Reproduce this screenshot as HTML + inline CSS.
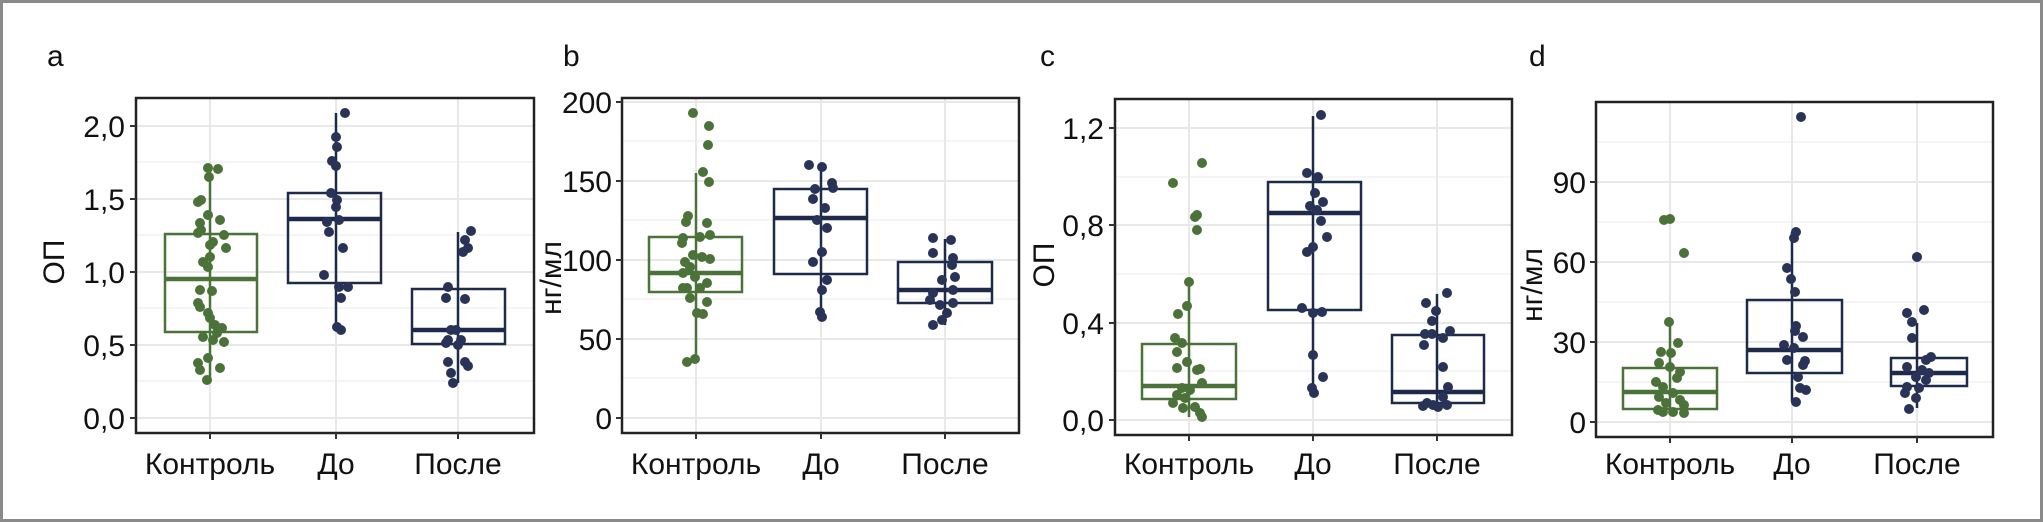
<!DOCTYPE html>
<html><head><meta charset="utf-8"><style>
html,body{margin:0;padding:0;background:#fff}
svg{display:block}
text{font-family:"Liberation Sans",Arial,sans-serif;fill:#111;font-size:30px}
.g line{stroke:#e8e8e8;stroke-width:2}
.gm line{stroke:#f2f2f2;stroke-width:1.5}
.gr circle{fill:#4b7339}
.nv circle{fill:#283357}
.bxg{fill:none;stroke:#4b7339;stroke-width:2.5}
.bxn{fill:none;stroke:#1f2a4a;stroke-width:2.5}
.frame{fill:none;stroke:#222;stroke-width:2.5}
.tk line{stroke:#333;stroke-width:2}
</style></head><body>
<svg width="2043" height="522" viewBox="0 0 2043 522" xmlns="http://www.w3.org/2000/svg">
<rect x="1.5" y="1.5" width="2040" height="519" fill="#fff" stroke="#8a8a8a" stroke-width="3"/>

<text x="47" y="66">a</text>
<g class="gm"><line x1="137" x2="533" y1="381" y2="381"/><line x1="137" x2="533" y1="308" y2="308"/><line x1="137" x2="533" y1="235" y2="235"/><line x1="137" x2="533" y1="162" y2="162"/></g>
<g class="g"><line x1="137" x2="533" y1="418" y2="418"/><line x1="137" x2="533" y1="345" y2="345"/><line x1="137" x2="533" y1="272" y2="272"/><line x1="137" x2="533" y1="199" y2="199"/><line x1="137" x2="533" y1="126" y2="126"/>
<line x1="210" x2="210" y1="99" y2="432"/><line x1="336" x2="336" y1="99" y2="432"/><line x1="458" x2="458" y1="99" y2="432"/></g>
<line x1="210" x2="210" y1="172" y2="380" stroke="#4b7339" stroke-width="2.5"/>
<rect x="165" y="234" width="92" height="98" class="bxg"/><line x1="165" x2="257" y1="279" y2="279" stroke="#4b7339" stroke-width="4.5"/>
<line x1="336" x2="336" y1="113" y2="330" stroke="#1f2a4a" stroke-width="2.5"/>
<rect x="288" y="193" width="93" height="90" class="bxn"/><line x1="288" x2="381" y1="219" y2="219" stroke="#1f2a4a" stroke-width="4.5"/>
<line x1="458" x2="458" y1="232" y2="383" stroke="#1f2a4a" stroke-width="2.5"/>
<rect x="412" y="289" width="93" height="55" class="bxn"/><line x1="412" x2="505" y1="330" y2="330" stroke="#1f2a4a" stroke-width="4.5"/>
<g class="gr"><circle cx="208" cy="168" r="5"/><circle cx="218" cy="169" r="5"/><circle cx="209" cy="177" r="5"/><circle cx="198" cy="202" r="5"/><circle cx="201" cy="200" r="5"/><circle cx="208" cy="215" r="5"/><circle cx="220" cy="220" r="5"/><circle cx="200" cy="223" r="5"/><circle cx="201" cy="230" r="5"/><circle cx="198" cy="233" r="5"/><circle cx="224" cy="235" r="5"/><circle cx="213" cy="242" r="5"/><circle cx="210" cy="245" r="5"/><circle cx="226" cy="248" r="5"/><circle cx="203" cy="262" r="5"/><circle cx="208" cy="267" r="5"/><circle cx="210" cy="257" r="5"/><circle cx="200" cy="290" r="5"/><circle cx="212" cy="291" r="5"/><circle cx="198" cy="303" r="5"/><circle cx="200" cy="307" r="5"/><circle cx="208" cy="313" r="5"/><circle cx="210" cy="318" r="5"/><circle cx="215" cy="325" r="5"/><circle cx="222" cy="328" r="5"/><circle cx="217" cy="333" r="5"/><circle cx="203" cy="337" r="5"/><circle cx="224" cy="342" r="5"/><circle cx="213" cy="340" r="5"/><circle cx="208" cy="358" r="5"/><circle cx="198" cy="363" r="5"/><circle cx="200" cy="370" r="5"/><circle cx="220" cy="368" r="5"/><circle cx="207" cy="380" r="5"/></g>
<g class="nv"><circle cx="345" cy="113" r="5"/><circle cx="336" cy="137" r="5"/><circle cx="337" cy="147" r="5"/><circle cx="332" cy="161" r="5"/><circle cx="336" cy="166" r="5"/><circle cx="331" cy="193" r="5"/><circle cx="337" cy="200" r="5"/><circle cx="336" cy="207" r="5"/><circle cx="339" cy="220" r="5"/><circle cx="327" cy="222" r="5"/><circle cx="329" cy="232" r="5"/><circle cx="343" cy="248" r="5"/><circle cx="324" cy="275" r="5"/><circle cx="339" cy="287" r="5"/><circle cx="348" cy="287" r="5"/><circle cx="341" cy="298" r="5"/><circle cx="337" cy="327" r="5"/><circle cx="341" cy="330" r="5"/>
<circle cx="471" cy="231" r="5"/><circle cx="465" cy="240" r="5"/><circle cx="468" cy="248" r="5"/><circle cx="463" cy="252" r="5"/><circle cx="448" cy="287" r="5"/><circle cx="446" cy="298" r="5"/><circle cx="465" cy="299" r="5"/><circle cx="451" cy="330" r="5"/><circle cx="456" cy="330" r="5"/><circle cx="448" cy="340" r="5"/><circle cx="461" cy="340" r="5"/><circle cx="446" cy="343" r="5"/><circle cx="458" cy="345" r="5"/><circle cx="448" cy="362" r="5"/><circle cx="465" cy="362" r="5"/><circle cx="468" cy="366" r="5"/><circle cx="451" cy="373" r="5"/><circle cx="453" cy="383" r="5"/></g>
<rect x="136" y="98" width="398" height="335" class="frame"/>
<g class="tk"><line x1="130" x2="136" y1="418" y2="418"/><line x1="130" x2="136" y1="345" y2="345"/><line x1="130" x2="136" y1="272" y2="272"/><line x1="130" x2="136" y1="199" y2="199"/><line x1="130" x2="136" y1="126" y2="126"/><line x1="210" x2="210" y1="433" y2="439"/><line x1="336" x2="336" y1="433" y2="439"/><line x1="458" x2="458" y1="433" y2="439"/></g>
<g text-anchor="end"><text x="125" y="429">0,0</text><text x="125" y="356">0,5</text><text x="125" y="283">1,0</text><text x="125" y="210">1,5</text><text x="125" y="137">2,0</text></g>
<g text-anchor="middle"><text x="210" y="474">Контроль</text><text x="336" y="474">До</text><text x="458" y="474">После</text></g>
<text transform="translate(64,262) rotate(-90)" text-anchor="middle">ОП</text>

<text x="563" y="66">b</text>
<g class="gm"><line x1="623" x2="1018" y1="378" y2="378"/><line x1="623" x2="1018" y1="299" y2="299"/><line x1="623" x2="1018" y1="220" y2="220"/><line x1="623" x2="1018" y1="141" y2="141"/></g>
<g class="g"><line x1="623" x2="1018" y1="418" y2="418"/><line x1="623" x2="1018" y1="339" y2="339"/><line x1="623" x2="1018" y1="260" y2="260"/><line x1="623" x2="1018" y1="181" y2="181"/><line x1="623" x2="1018" y1="102" y2="102"/>
<line x1="696" x2="696" y1="99" y2="432"/><line x1="821" x2="821" y1="99" y2="432"/><line x1="945" x2="945" y1="99" y2="432"/></g>
<line x1="696" x2="696" y1="173" y2="360" stroke="#4b7339" stroke-width="2.5"/>
<rect x="649" y="237" width="93" height="55" class="bxg"/><line x1="649" x2="742" y1="273" y2="273" stroke="#4b7339" stroke-width="4.5"/>
<line x1="821" x2="821" y1="168" y2="315" stroke="#1f2a4a" stroke-width="2.5"/>
<rect x="774" y="189" width="93" height="85" class="bxn"/><line x1="774" x2="867" y1="218" y2="218" stroke="#1f2a4a" stroke-width="4.5"/>
<line x1="945" x2="945" y1="239" y2="325" stroke="#1f2a4a" stroke-width="2.5"/>
<rect x="898" y="262" width="94" height="41" class="bxn"/><line x1="898" x2="992" y1="290" y2="290" stroke="#1f2a4a" stroke-width="4.5"/>
<g class="gr"><circle cx="693" cy="113" r="5"/><circle cx="709" cy="126" r="5"/><circle cx="708" cy="145" r="5"/><circle cx="703" cy="172" r="5"/><circle cx="709" cy="182" r="5"/><circle cx="688" cy="216" r="5"/><circle cx="686" cy="222" r="5"/><circle cx="707" cy="223" r="5"/><circle cx="710" cy="235" r="5"/><circle cx="700" cy="237" r="5"/><circle cx="683" cy="238" r="5"/><circle cx="682" cy="243" r="5"/><circle cx="693" cy="255" r="5"/><circle cx="702" cy="257" r="5"/><circle cx="710" cy="259" r="5"/><circle cx="685" cy="262" r="5"/><circle cx="690" cy="267" r="5"/><circle cx="683" cy="273" r="5"/><circle cx="695" cy="277" r="5"/><circle cx="707" cy="283" r="5"/><circle cx="687" cy="288" r="5"/><circle cx="683" cy="288" r="5"/><circle cx="700" cy="288" r="5"/><circle cx="690" cy="298" r="5"/><circle cx="707" cy="302" r="5"/><circle cx="697" cy="313" r="5"/><circle cx="703" cy="314" r="5"/><circle cx="687" cy="362" r="5"/><circle cx="695" cy="359" r="5"/></g>
<g class="nv"><circle cx="809" cy="165" r="5"/><circle cx="822" cy="167" r="5"/><circle cx="815" cy="189" r="5"/><circle cx="832" cy="183" r="5"/><circle cx="833" cy="188" r="5"/><circle cx="813" cy="199" r="5"/><circle cx="825" cy="208" r="5"/><circle cx="817" cy="220" r="5"/><circle cx="827" cy="228" r="5"/><circle cx="822" cy="252" r="5"/><circle cx="813" cy="262" r="5"/><circle cx="827" cy="280" r="5"/><circle cx="822" cy="290" r="5"/><circle cx="820" cy="312" r="5"/><circle cx="822" cy="317" r="5"/>
<circle cx="933" cy="238" r="5"/><circle cx="951" cy="240" r="5"/><circle cx="933" cy="253" r="5"/><circle cx="953" cy="258" r="5"/><circle cx="952" cy="265" r="5"/><circle cx="942" cy="280" r="5"/><circle cx="955" cy="277" r="5"/><circle cx="953" cy="290" r="5"/><circle cx="933" cy="293" r="5"/><circle cx="930" cy="300" r="5"/><circle cx="953" cy="303" r="5"/><circle cx="940" cy="305" r="5"/><circle cx="947" cy="313" r="5"/><circle cx="942" cy="320" r="5"/><circle cx="933" cy="325" r="5"/></g>
<rect x="622" y="98" width="397" height="335" class="frame"/>
<g class="tk"><line x1="616" x2="622" y1="418" y2="418"/><line x1="616" x2="622" y1="339" y2="339"/><line x1="616" x2="622" y1="260" y2="260"/><line x1="616" x2="622" y1="181" y2="181"/><line x1="616" x2="622" y1="102" y2="102"/><line x1="696" x2="696" y1="433" y2="439"/><line x1="821" x2="821" y1="433" y2="439"/><line x1="945" x2="945" y1="433" y2="439"/></g>
<g text-anchor="end"><text x="612" y="429">0</text><text x="612" y="350">50</text><text x="612" y="271">100</text><text x="612" y="192">150</text><text x="612" y="113">200</text></g>
<g text-anchor="middle"><text x="696" y="474">Контроль</text><text x="821" y="474">До</text><text x="945" y="474">После</text></g>
<text transform="translate(561,278) rotate(-90)" text-anchor="middle">нг/мл</text>

<text x="1040" y="66">c</text>
<g class="gm"><line x1="1116" x2="1511" y1="371" y2="371"/><line x1="1116" x2="1511" y1="274" y2="274"/><line x1="1116" x2="1511" y1="177" y2="177"/></g>
<g class="g"><line x1="1116" x2="1511" y1="420" y2="420"/><line x1="1116" x2="1511" y1="323" y2="323"/><line x1="1116" x2="1511" y1="225" y2="225"/><line x1="1116" x2="1511" y1="128" y2="128"/>
<line x1="1189" x2="1189" y1="100" y2="434"/><line x1="1313" x2="1313" y1="100" y2="434"/><line x1="1437" x2="1437" y1="100" y2="434"/></g>
<line x1="1189" x2="1189" y1="282" y2="417" stroke="#4b7339" stroke-width="2.5"/>
<rect x="1142" y="344" width="94" height="55" class="bxg"/><line x1="1142" x2="1236" y1="386" y2="386" stroke="#4b7339" stroke-width="4.5"/>
<line x1="1313" x2="1313" y1="116" y2="393" stroke="#1f2a4a" stroke-width="2.5"/>
<rect x="1268" y="182" width="93" height="128" class="bxn"/><line x1="1268" x2="1361" y1="213" y2="213" stroke="#1f2a4a" stroke-width="4.5"/>
<line x1="1437" x2="1437" y1="294" y2="408" stroke="#1f2a4a" stroke-width="2.5"/>
<rect x="1392" y="335" width="92" height="68" class="bxn"/><line x1="1392" x2="1484" y1="392" y2="392" stroke="#1f2a4a" stroke-width="4.5"/>
<g class="gr"><circle cx="1202" cy="163" r="5"/><circle cx="1173" cy="183" r="5"/><circle cx="1197" cy="215" r="5"/><circle cx="1195" cy="217" r="5"/><circle cx="1197" cy="230" r="5"/><circle cx="1189" cy="282" r="5"/><circle cx="1187" cy="306" r="5"/><circle cx="1178" cy="314" r="5"/><circle cx="1175" cy="338" r="5"/><circle cx="1182" cy="343" r="5"/><circle cx="1177" cy="352" r="5"/><circle cx="1187" cy="362" r="5"/><circle cx="1177" cy="368" r="5"/><circle cx="1200" cy="369" r="5"/><circle cx="1197" cy="370" r="5"/><circle cx="1202" cy="383" r="5"/><circle cx="1182" cy="388" r="5"/><circle cx="1190" cy="390" r="5"/><circle cx="1177" cy="395" r="5"/><circle cx="1185" cy="398" r="5"/><circle cx="1173" cy="403" r="5"/><circle cx="1195" cy="407" r="5"/><circle cx="1183" cy="408" r="5"/><circle cx="1200" cy="413" r="5"/><circle cx="1202" cy="417" r="5"/></g>
<g class="nv"><circle cx="1321" cy="115" r="5"/><circle cx="1307" cy="173" r="5"/><circle cx="1318" cy="177" r="5"/><circle cx="1315" cy="193" r="5"/><circle cx="1323" cy="202" r="5"/><circle cx="1310" cy="206" r="5"/><circle cx="1317" cy="210" r="5"/><circle cx="1321" cy="221" r="5"/><circle cx="1327" cy="237" r="5"/><circle cx="1313" cy="247" r="5"/><circle cx="1307" cy="252" r="5"/><circle cx="1302" cy="308" r="5"/><circle cx="1313" cy="313" r="5"/><circle cx="1322" cy="312" r="5"/><circle cx="1313" cy="355" r="5"/><circle cx="1323" cy="377" r="5"/><circle cx="1312" cy="388" r="5"/><circle cx="1314" cy="393" r="5"/>
<circle cx="1447" cy="293" r="5"/><circle cx="1426" cy="303" r="5"/><circle cx="1436" cy="311" r="5"/><circle cx="1432" cy="321" r="5"/><circle cx="1450" cy="331" r="5"/><circle cx="1425" cy="334" r="5"/><circle cx="1432" cy="334" r="5"/><circle cx="1443" cy="338" r="5"/><circle cx="1424" cy="345" r="5"/><circle cx="1443" cy="367" r="5"/><circle cx="1448" cy="387" r="5"/><circle cx="1443" cy="397" r="5"/><circle cx="1427" cy="403" r="5"/><circle cx="1433" cy="405" r="5"/><circle cx="1447" cy="405" r="5"/><circle cx="1423" cy="406" r="5"/><circle cx="1438" cy="407" r="5"/></g>
<rect x="1115" y="99" width="397" height="336" class="frame"/>
<g class="tk"><line x1="1109" x2="1115" y1="420" y2="420"/><line x1="1109" x2="1115" y1="323" y2="323"/><line x1="1109" x2="1115" y1="225" y2="225"/><line x1="1109" x2="1115" y1="128" y2="128"/><line x1="1189" x2="1189" y1="435" y2="441"/><line x1="1313" x2="1313" y1="435" y2="441"/><line x1="1437" x2="1437" y1="435" y2="441"/></g>
<g text-anchor="end"><text x="1104" y="431">0,0</text><text x="1104" y="334">0,4</text><text x="1104" y="236">0,8</text><text x="1104" y="139">1,2</text></g>
<g text-anchor="middle"><text x="1189" y="474">Контроль</text><text x="1313" y="474">До</text><text x="1437" y="474">После</text></g>
<text transform="translate(1054,265) rotate(-90)" text-anchor="middle">ОП</text>

<text x="1529" y="66">d</text>
<g class="gm"><line x1="1597" x2="1992" y1="382" y2="382"/><line x1="1597" x2="1992" y1="302" y2="302"/><line x1="1597" x2="1992" y1="222" y2="222"/><line x1="1597" x2="1992" y1="142" y2="142"/></g>
<g class="g"><line x1="1597" x2="1992" y1="422" y2="422"/><line x1="1597" x2="1992" y1="342" y2="342"/><line x1="1597" x2="1992" y1="262" y2="262"/><line x1="1597" x2="1992" y1="182" y2="182"/>
<line x1="1670" x2="1670" y1="103" y2="436"/><line x1="1792" x2="1792" y1="103" y2="436"/><line x1="1917" x2="1917" y1="103" y2="436"/></g>
<line x1="1670" x2="1670" y1="322" y2="415" stroke="#4b7339" stroke-width="2.5"/>
<rect x="1623" y="368" width="94" height="41" class="bxg"/><line x1="1623" x2="1717" y1="392" y2="392" stroke="#4b7339" stroke-width="4.5"/>
<line x1="1792" x2="1792" y1="232" y2="402" stroke="#1f2a4a" stroke-width="2.5"/>
<rect x="1747" y="300" width="95" height="73" class="bxn"/><line x1="1747" x2="1842" y1="350" y2="350" stroke="#1f2a4a" stroke-width="4.5"/>
<line x1="1917" x2="1917" y1="323" y2="408" stroke="#1f2a4a" stroke-width="2.5"/>
<rect x="1891" y="358" width="76" height="28" class="bxn"/><line x1="1891" x2="1967" y1="373" y2="373" stroke="#1f2a4a" stroke-width="4.5"/>
<g class="gr"><circle cx="1664" cy="220" r="5"/><circle cx="1670" cy="219" r="5"/><circle cx="1684" cy="253" r="5"/><circle cx="1669" cy="322" r="5"/><circle cx="1678" cy="343" r="5"/><circle cx="1661" cy="352" r="5"/><circle cx="1671" cy="353" r="5"/><circle cx="1659" cy="363" r="5"/><circle cx="1670" cy="367" r="5"/><circle cx="1680" cy="372" r="5"/><circle cx="1677" cy="378" r="5"/><circle cx="1656" cy="382" r="5"/><circle cx="1663" cy="387" r="5"/><circle cx="1673" cy="393" r="5"/><circle cx="1659" cy="397" r="5"/><circle cx="1680" cy="400" r="5"/><circle cx="1666" cy="403" r="5"/><circle cx="1684" cy="405" r="5"/><circle cx="1658" cy="410" r="5"/><circle cx="1673" cy="412" r="5"/><circle cx="1684" cy="413" r="5"/><circle cx="1663" cy="412" r="5"/></g>
<g class="nv"><circle cx="1801" cy="117" r="5"/><circle cx="1796" cy="232" r="5"/><circle cx="1794" cy="238" r="5"/><circle cx="1787" cy="268" r="5"/><circle cx="1791" cy="279" r="5"/><circle cx="1795" cy="292" r="5"/><circle cx="1796" cy="326" r="5"/><circle cx="1795" cy="331" r="5"/><circle cx="1803" cy="337" r="5"/><circle cx="1784" cy="345" r="5"/><circle cx="1794" cy="348" r="5"/><circle cx="1787" cy="360" r="5"/><circle cx="1805" cy="361" r="5"/><circle cx="1803" cy="365" r="5"/><circle cx="1798" cy="377" r="5"/><circle cx="1800" cy="388" r="5"/><circle cx="1806" cy="390" r="5"/><circle cx="1796" cy="402" r="5"/>
<circle cx="1917" cy="257" r="5"/><circle cx="1924" cy="310" r="5"/><circle cx="1907" cy="313" r="5"/><circle cx="1912" cy="322" r="5"/><circle cx="1912" cy="338" r="5"/><circle cx="1931" cy="357" r="5"/><circle cx="1926" cy="360" r="5"/><circle cx="1907" cy="367" r="5"/><circle cx="1922" cy="370" r="5"/><circle cx="1929" cy="373" r="5"/><circle cx="1916" cy="377" r="5"/><circle cx="1926" cy="380" r="5"/><circle cx="1907" cy="387" r="5"/><circle cx="1919" cy="388" r="5"/><circle cx="1905" cy="393" r="5"/><circle cx="1916" cy="398" r="5"/><circle cx="1909" cy="409" r="5"/></g>
<rect x="1596" y="102" width="397" height="335" class="frame"/>
<g class="tk"><line x1="1590" x2="1596" y1="422" y2="422"/><line x1="1590" x2="1596" y1="342" y2="342"/><line x1="1590" x2="1596" y1="262" y2="262"/><line x1="1590" x2="1596" y1="182" y2="182"/><line x1="1670" x2="1670" y1="437" y2="443"/><line x1="1792" x2="1792" y1="437" y2="443"/><line x1="1917" x2="1917" y1="437" y2="443"/></g>
<g text-anchor="end"><text x="1586" y="433">0</text><text x="1586" y="353">30</text><text x="1586" y="273">60</text><text x="1586" y="193">90</text></g>
<g text-anchor="middle"><text x="1670" y="474">Контроль</text><text x="1792" y="474">До</text><text x="1917" y="474">После</text></g>
<text transform="translate(1542,285) rotate(-90)" text-anchor="middle">нг/мл</text>
</svg>
</body></html>
